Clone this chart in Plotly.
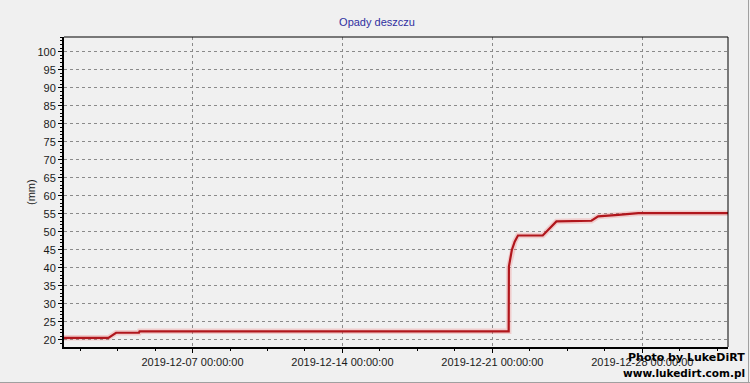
import plotly.graph_objects as go

# ---- data ----
times = ["2019-12-01 00:00", "2019-12-03 01:45", "2019-12-03 10:20", "2019-12-04 12:00",
         "2019-12-04 12:40", "2019-12-21 18:15", "2019-12-21 18:30", "2019-12-21 21:50",
         "2019-12-22 01:00", "2019-12-22 04:40", "2019-12-23 08:25", "2019-12-23 23:45",
         "2019-12-25 15:00", "2019-12-25 22:30", "2019-12-26 21:00", "2019-12-27 19:30",
         "2020-01-01 00:00"]
rain_mm = [20.6, 20.6, 22.0, 22.0, 22.4, 22.4, 40.4, 45.0, 47.3, 49.0, 49.0, 52.9,
           53.1, 54.3, 54.7, 55.2, 55.2]

x_tickvals = ["2019-12-07", "2019-12-14", "2019-12-21", "2019-12-28"]
x_ticktext = ["2019-12-07 00:00:00", "2019-12-14 00:00:00", "2019-12-21 00:00:00", "2019-12-28 00:00:00"]

title_text = "Opady deszczu"
y_title = "(mm)"
wm1 = "Photo by LukeDiRT"
wm2 = "www.lukedirt.com.pl"

W, H = 750, 383
L, R, T, B = 64, 728, 37, 347
pw, ph = R - L, B - T

def px(xp):
    return (xp - L) / pw

def py(yp):
    return (B - yp) / ph

fig = go.Figure()
# soft halo under the line
fig.add_trace(go.Scatter(x=times, y=rain_mm, mode="lines",
                         line=dict(color="rgba(240,110,110,0.28)", width=5.5),
                         hoverinfo="skip", showlegend=False))
fig.add_trace(go.Scatter(x=times, y=rain_mm, mode="lines",
                         line=dict(color="#b0161c", width=2.2),
                         showlegend=False))

tickfont = dict(family="Liberation Sans, Arial, sans-serif", size=11, color="#1a1a1a")

fig.update_layout(
    width=W, height=H,
    margin=dict(l=L, r=W - R, t=T, b=H - B, pad=0),
    paper_bgcolor="#f0f0f0", plot_bgcolor="#f0f0f0",
    title=dict(text=title_text, x=377 / W, xref="container", xanchor="center",
               y=1 - 22 / H, yref="container", yanchor="middle",
               font=dict(family="Liberation Sans, Arial, sans-serif", size=11, color="#2f2fa0")),
    xaxis=dict(type="date", range=["2019-12-01 00:00", "2020-01-01 00:00"],
               tickmode="array", tickvals=x_tickvals, ticktext=x_ticktext,
               ticks="outside", ticklen=4, tickcolor="black", tickwidth=1,
               showline=True, linecolor="black", linewidth=2,
               showgrid=True, gridcolor="#8a8a8a", gridwidth=1, griddash="3px,3px",
               zeroline=False, tickfont=tickfont,
               minor=dict(ticks="outside", ticklen=2, tickcolor="black",
                          dtick=151200000, tick0="2019-12-07", showgrid=False)),
    yaxis=dict(range=[18.05, 104.1], tick0=0, dtick=5,
               ticks="outside", ticklen=4, tickcolor="black", tickwidth=1,
               showline=True, linecolor="black", linewidth=2,
               showgrid=True, gridcolor="#8a8a8a", gridwidth=1, griddash="3px,3px",
               zeroline=False, tickfont=tickfont,
               minor=dict(ticks="outside", ticklen=2, tickcolor="black",
                          dtick=1, showgrid=False)),
    shapes=[
        dict(type="line", xref="paper", yref="paper", x0=0, x1=1, y0=1, y1=1,
             line=dict(color="black", width=1)),
        dict(type="line", xref="paper", yref="paper", x0=1, x1=1, y0=0, y1=1,
             line=dict(color="black", width=1)),
        dict(type="line", xref="paper", yref="paper", x0=px(748.5), x1=px(748.5),
             y0=py(0), y1=py(383), line=dict(color="#a0a0a0", width=1)),
        dict(type="line", xref="paper", yref="paper", x0=px(0), x1=px(750),
             y0=py(382.5), y1=py(382.5), line=dict(color="#a0a0a0", width=1)),
    ],
    annotations=[
        dict(text=y_title, textangle=-90, xref="paper", yref="paper",
             x=px(31), y=0.5, xanchor="center", yanchor="middle", showarrow=False,
             font=dict(family="Liberation Sans, Arial, sans-serif", size=11, color="#1a1a1a")),
        dict(text="<b>" + wm1 + "</b>", xref="paper", yref="paper",
             x=px(747), y=py(357), xanchor="right", yanchor="middle", showarrow=False,
             font=dict(family="DejaVu Sans, Verdana, sans-serif", size=11, color="black")),
        dict(text="<b>" + wm2 + "</b>", xref="paper", yref="paper",
             x=px(747), y=py(373), xanchor="right", yanchor="middle", showarrow=False,
             font=dict(family="DejaVu Sans, Verdana, sans-serif", size=10.5, color="black")),
    ],
)

fig.write_html("out.html")
